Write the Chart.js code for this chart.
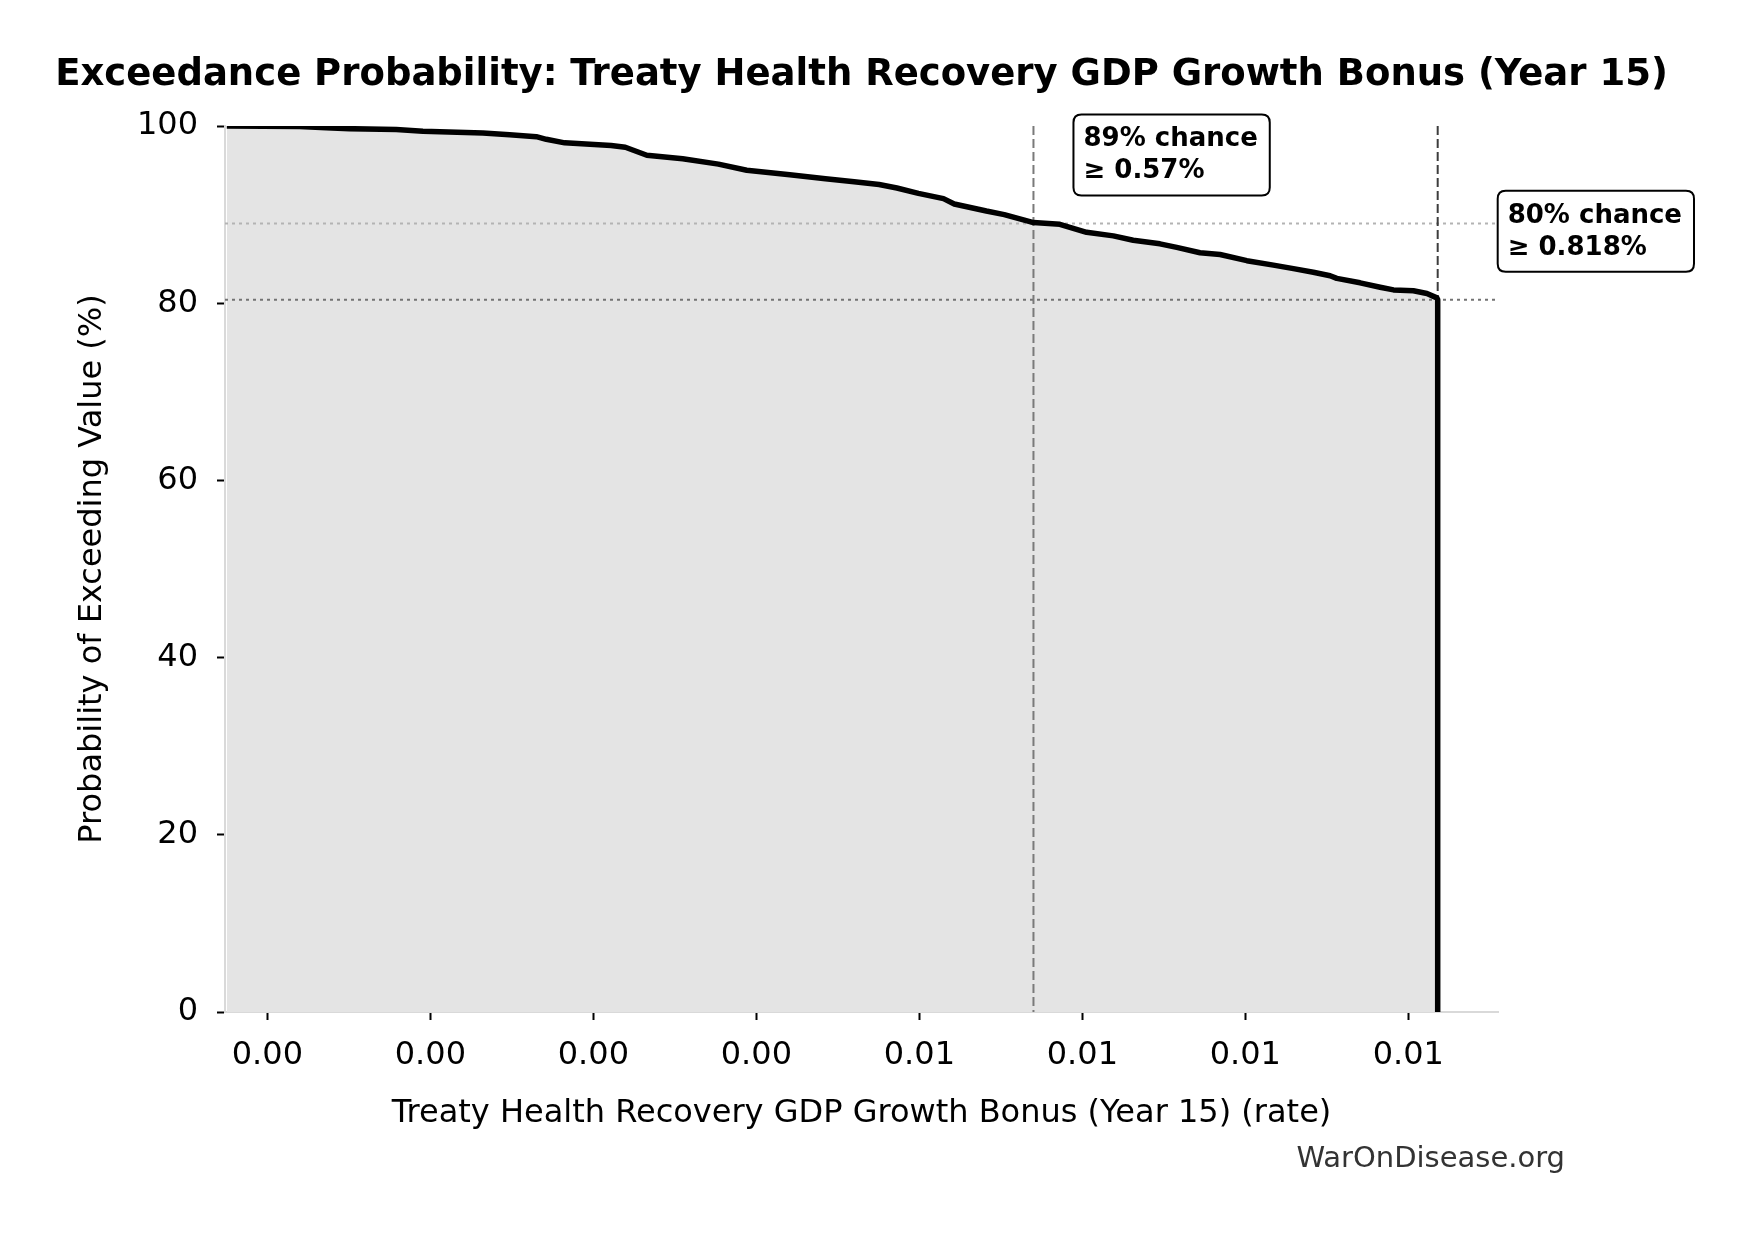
<!DOCTYPE html>
<html>
<head>
<meta charset="utf-8">
<title>Exceedance Probability</title>
<script src="https://cdn.jsdelivr.net/npm/chart.js@4.4.1/dist/chart.umd.min.js"></script>
<style>
  html, body { margin: 0; padding: 0; background: #fff; }
  #chart { display: block; }
</style>
</head>
<body>
<canvas id="chart" width="1743" height="1233"></canvas>
<script>
// growth bonus (rate) vs. share of runs exceeding it
const growthRate = [
  0.000751, 0.001197, 0.001361, 0.001504, 0.001791, 0.001954, 0.002322, 0.002486,
  0.002650, 0.002711, 0.002824, 0.003109, 0.003196, 0.003328, 0.003548, 0.003767,
  0.003941, 0.004205, 0.004424, 0.004600, 0.004753, 0.004862, 0.004994, 0.005148,
  0.005214, 0.005411, 0.005521, 0.005700, 0.005862, 0.006026, 0.006190, 0.006312,
  0.006476, 0.006579, 0.006722, 0.006845, 0.007009, 0.007172, 0.007295, 0.007417,
  0.007520, 0.007561, 0.007704, 0.007827, 0.007909, 0.008031, 0.008114, 0.008175,
  0.008180, 0.008180
];
const exceedPct = [
  100.0, 99.95, 99.8, 99.7, 99.6, 99.4, 99.2, 99.0,
  98.8, 98.5, 98.1, 97.8, 97.6, 96.7, 96.3, 95.7,
  95.0, 94.5, 94.05, 93.7, 93.4, 93.0, 92.4, 91.8,
  91.2, 90.4, 90.0, 89.1, 88.9, 88.0, 87.6, 87.1,
  86.7, 86.3, 85.7, 85.5, 84.8, 84.3, 83.9, 83.5,
  83.1, 82.8, 82.3, 81.8, 81.5, 81.4, 81.1, 80.6,
  80.4, 0
];

const xTickValues = [0.001, 0.002, 0.003, 0.004, 0.005, 0.006, 0.007, 0.008];
const xTickLabels = ['0.00', '0.00', '0.00', '0.00', '0.01', '0.01', '0.01', '0.01'];
const yTickValues = [0, 20, 40, 60, 80, 100];

// percentile markers
const markerRates = [0.0057, 0.00818];
const markerPcts = [89, 80.4];
const markerLabels = [['89% chance', '\u2265 0.57%'], ['80% chance', '\u2265 0.818%']];

const titleText = 'Exceedance Probability: Treaty Health Recovery GDP Growth Bonus (Year 15)';
const xLabel = 'Treaty Health Recovery GDP Growth Bonus (Year 15) (rate)';
const yLabel = 'Probability of Exceeding Value (%)';
const sourceText = 'WarOnDisease.org';

const FONT = '"DejaVu Sans", "Liberation Sans", sans-serif';

const hLineColors = ['#b3b3b3', '#737373'];
const vLineColors = ['#7a7a7a', '#3d3d3d'];
const boxShiftX = [40, 60];

function roundRect(ctx, x, y, w, h, r) {
  ctx.beginPath();
  ctx.moveTo(x + r, y);
  ctx.lineTo(x + w - r, y);
  ctx.quadraticCurveTo(x + w, y, x + w, y + r);
  ctx.lineTo(x + w, y + h - r);
  ctx.quadraticCurveTo(x + w, y + h, x + w - r, y + h);
  ctx.lineTo(x + r, y + h);
  ctx.quadraticCurveTo(x, y + h, x, y + h - r);
  ctx.lineTo(x, y + r);
  ctx.quadraticCurveTo(x, y, x + r, y);
  ctx.closePath();
}

const overlay = {
  id: 'overlay',
  beforeDatasetsDraw(chart) {
    const { ctx, chartArea: a, scales: { x, y } } = chart;
    ctx.save();
    ctx.lineWidth = 2;
    ctx.setLineDash([3, 4]);
    markerPcts.forEach((p, i) => {
      const py = y.getPixelForValue(p);
      ctx.strokeStyle = hLineColors[i];
      ctx.beginPath();
      ctx.moveTo(a.left, py);
      ctx.lineTo(a.right, py);
      ctx.stroke();
    });
    ctx.setLineDash([9, 4]);
    markerRates.forEach((r, i) => {
      const px = x.getPixelForValue(r);
      ctx.strokeStyle = vLineColors[i];
      ctx.beginPath();
      ctx.moveTo(px, y.getPixelForValue(100));
      ctx.lineTo(px, y.getPixelForValue(0));
      ctx.stroke();
    });
    ctx.restore();
  },
  afterDraw(chart) {
    const { ctx, chartArea: a, scales: { x, y } } = chart;
    ctx.save();

    // annotation boxes
    ctx.font = 'bold 26px ' + FONT;
    ctx.textAlign = 'left';
    ctx.textBaseline = 'alphabetic';
    markerLabels.forEach((lines, i) => {
      const left = x.getPixelForValue(markerRates[i]) + boxShiftX[i];
      const top = y.getPixelForValue(markerPcts[i]) - 109;
      const w = Math.max(...lines.map(l => ctx.measureText(l).width)) + 22;
      roundRect(ctx, left, top, w, 81, 8);
      ctx.fillStyle = '#fff';
      ctx.fill();
      ctx.lineWidth = 2;
      ctx.strokeStyle = '#000';
      ctx.stroke();
      ctx.fillStyle = '#000';
      ctx.fillText(lines[0], left + 10, top + 32);
      ctx.fillText(lines[1], left + 10, top + 64);
    });

    // title
    ctx.font = 'bold 37px ' + FONT;
    ctx.textAlign = 'center';
    ctx.fillStyle = '#000';
    ctx.fillText(titleText, (a.left + a.right) / 2, 85);

    // source
    ctx.font = '29px ' + FONT;
    ctx.textAlign = 'right';
    ctx.fillStyle = '#333';
    ctx.fillText(sourceText, 1565, 1167);
    ctx.restore();
  }
};

new Chart(document.getElementById('chart'), {
  type: 'line',
  data: {
    datasets: [{
      data: growthRate.map((v, i) => ({ x: v, y: exceedPct[i] })),
      borderColor: '#000',
      borderWidth: 5.5,
      borderJoinStyle: 'round',
      backgroundColor: '#e4e4e4',
      fill: 'origin',
      pointRadius: 0,
      tension: 0
    }]
  },
  options: {
    responsive: false,
    devicePixelRatio: 1,
    animation: false,
    layout: { padding: { top: 126, right: 245, bottom: 100, left: 0 } },
    plugins: {
      legend: { display: false },
      tooltip: { enabled: false },
      filler: { drawTime: 'beforeDatasetsDraw' }
    },
    scales: {
      x: {
        type: 'linear',
        min: 0.00074,
        max: 0.00855,
        afterBuildTicks: s => { s.ticks = xTickValues.map(v => ({ value: v })); },
        afterFit: s => { s.height = 121; },
        ticks: {
          callback: (v, i) => xTickLabels[i],
          font: { family: FONT, size: 32 },
          color: '#000',
          padding: 16,
          maxRotation: 0,
          autoSkip: false
        },
        grid: { drawOnChartArea: false, tickLength: 8, tickWidth: 2, tickColor: '#000' },
        border: { color: '#d9d9d9', width: 2 },
        title: {
          display: true,
          text: xLabel,
          font: { family: FONT, size: 32 },
          color: '#000',
          padding: 0
        }
      },
      y: {
        min: 0,
        max: 100,
        afterBuildTicks: s => { s.ticks = yTickValues.map(v => ({ value: v })); },
        afterFit: s => { s.width = 225; },
        ticks: {
          font: { family: FONT, size: 32 },
          color: '#000',
          padding: 19
        },
        grid: { drawOnChartArea: false, tickLength: 8, tickWidth: 2, tickColor: '#000' },
        border: { color: '#d9d9d9', width: 2 },
        title: {
          display: true,
          text: yLabel,
          font: { family: FONT, size: 32 },
          color: '#000',
          padding: { top: 73, bottom: 0 }
        }
      }
    }
  },
  plugins: [overlay]
});
</script>
</body>
</html>
